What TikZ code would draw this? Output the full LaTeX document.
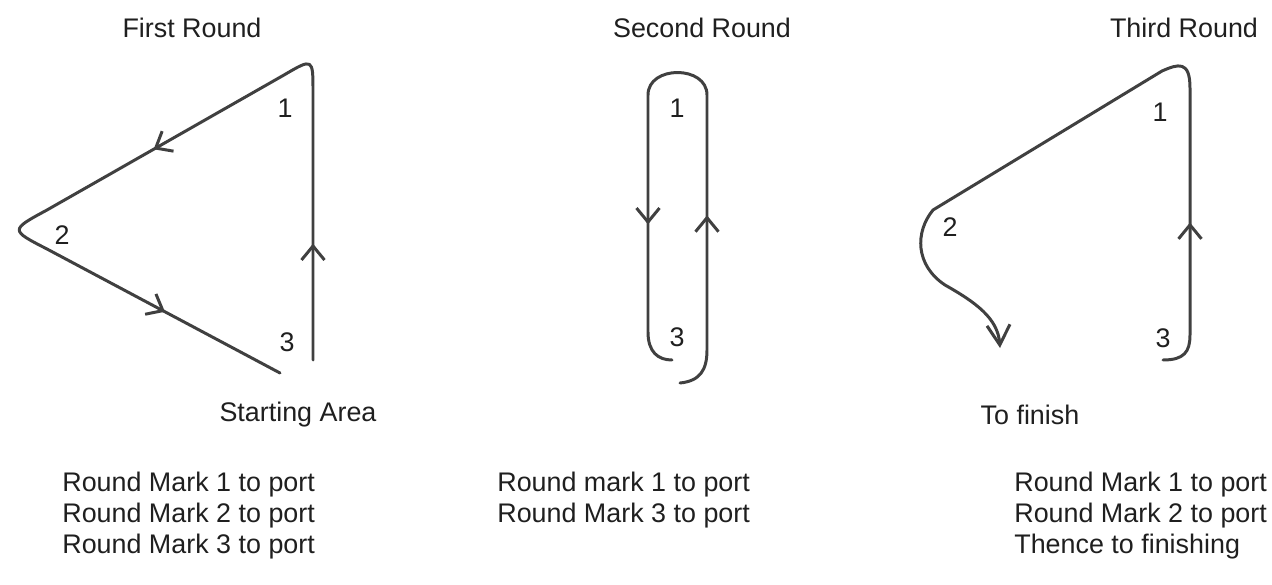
\documentclass[tikz,border=0pt]{standalone}
\usepackage{fontspec}
\setmainfont{Liberation Sans}
\usetikzlibrary{arrows.meta,decorations.markings}

\tikzset{
  course/.style={draw=black!75, line width=1.7pt, line cap=round, line join=round},
  marks/.style={postaction={decorate,decoration={markings,#1}}},
  lbl/.style={font=\fontsize{15.3}{17.4}\selectfont, text=black!88, inner sep=0pt},
}

\begin{document}
\begin{tikzpicture}[x=0.02cm,y=-0.02cm,>={Straight Barb[length=2.8mm,width=4.6mm]}]
\useasboundingbox (0,0) rectangle (1272,585);

% headings
\node[lbl] (first) at (192,28) {First Round};
\node[lbl] (second) at (702,28) {Second Round};
\node[lbl] (third) at (1184,28) {Third Round};

% first round
\draw[course, marks={mark=at position 0.125 with {\arrow{>}}, mark=at position 0.51 with {\arrow{>}}, mark=at position 0.86 with {\arrow{>}}}]
  (313,360) -- (313,92) .. controls (313,58) .. (284,75) -- (47,210)
  .. controls (10,230) .. (47,249) -- (280,373);
\node[lbl] (a1) at (285,108) {1};
\node[lbl] (a2) at (62,235) {2};
\node[lbl] (a3) at (287,342) {3};
\node[lbl] (start) at (298,415) {Starting Area};

% second round
\draw[course, marks={mark=at position 0.275 with {\arrow{>}}, mark=at position 0.775 with {\arrow{>}}}]
  (680,383) .. controls (700,381) and (707,370) .. (707,350) -- (707,95)
  .. controls (707,65) and (648,65) .. (648,95) -- (648,332)
  .. controls (648,352) and (658,360) .. (672,360);
\node[lbl] (b1) at (677,108) {1};
\node[lbl] (b3) at (677,337) {3};

% third round
\draw[course, marks={mark=at position 0.2 with {\arrow{>}}}, -{Straight Barb[length=4mm,width=4.6mm]}]
  (1163,360) .. controls (1184,360) and (1190,352) .. (1190,335) -- (1190,88)
  .. controls (1190,60) and (1178,64) .. (1162,71) -- (933,210)
  .. controls (915,232) and (915,265) .. (945,285)
  .. controls (975,302) and (998,318) .. (1000,348);
\node[lbl] (c1) at (1160,112) {1};
\node[lbl] (c2) at (950,227) {2};
\node[lbl] (c3) at (1163,338) {3};
\node[lbl] (finish) at (1030,415) {To finish};

% instructions
\node[lbl, anchor=base west, align=left] (rules1) at (62,553)
  {Round Mark 1 to port\\Round Mark 2 to port\\Round Mark 3 to port};
\node[lbl, anchor=base west, align=left] (rules2) at (497,522)
  {Round mark 1 to port\\Round Mark 3 to port};
\node[lbl, anchor=base west, align=left] (rules3) at (1014,553)
  {Round Mark 1 to port\\Round Mark 2 to port\\Thence to finishing};
\end{tikzpicture}
\end{document}
